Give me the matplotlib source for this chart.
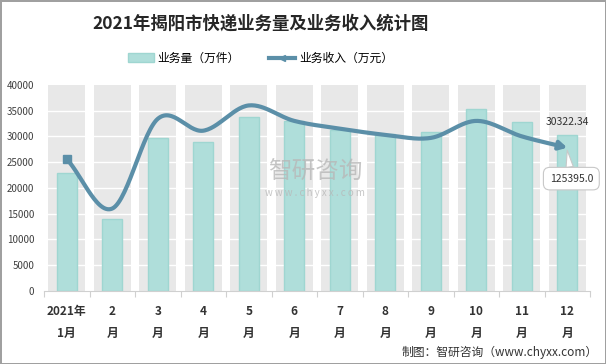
import matplotlib.pyplot as plt
import numpy as np
from matplotlib.patches import Rectangle
from matplotlib.lines import Line2D

plt.rcParams['font.family'] = ['Noto Sans CJK SC', 'DejaVu Sans']

months = ['2021年\n1月', '2\n月', '3\n月', '4\n月', '5\n月', '6\n月',
          '7\n月', '8\n月', '9\n月', '10\n月', '11\n月', '12\n月']
volume = [22900, 14000, 29600, 28900, 33700, 33000, 31300, 30500, 30800, 35400, 32700, 30322.34]
revenue = [25600, 16000, 33400, 31100, 36000, 33000, 31500, 30300, 29700, 33000, 30000, 27800]
ymax = 40000


def smooth(xs, ys, n=30):
    # catmull-rom curve through the points
    xs = np.asarray(xs, float)
    ys = np.asarray(ys, float)
    px = np.concatenate([[2 * xs[0] - xs[1]], xs, [2 * xs[-1] - xs[-2]]])
    py = np.concatenate([[2 * ys[0] - ys[1]], ys, [2 * ys[-1] - ys[-2]]])
    ox, oy = [], []
    t = np.linspace(0, 1, n, endpoint=False)
    for i in range(1, len(px) - 2):
        for p, o in ((px, ox), (py, oy)):
            p0, p1, p2, p3 = p[i - 1], p[i], p[i + 1], p[i + 2]
            o.extend(0.5 * (2 * p1 + (-p0 + p2) * t + (2 * p0 - 5 * p1 + 4 * p2 - p3) * t ** 2
                            + (-p0 + 3 * p1 - 3 * p2 + p3) * t ** 3))
    ox.append(xs[-1])
    oy.append(ys[-1])
    return np.array(ox), np.array(oy)


fig = plt.figure(figsize=(6.06, 3.64), dpi=100)
fig.patch.set_edgecolor('#a0a0a0')
fig.patch.set_linewidth(2)
ax = fig.add_axes([44 / 606, 0.2005, 546 / 606, 0.5665])

x = np.arange(len(months))
ax.bar(x, [ymax] * len(x), width=0.82, color='#e8e8e8', zorder=0)
ax.set_ylim(0, ymax)
ax.set_xlim(-0.5, len(x) - 0.5)
for yv in range(5000, ymax, 5000):
    ax.axhline(yv, color='white', lw=1, zorder=1)
ax.bar(x, volume, width=0.45, color='#afdeda', edgecolor='#9fd6d1', lw=1, zorder=2)

sx, sy = smooth(x, revenue)
ax.plot(sx[:-6], sy[:-6], color='#5b8fa8', lw=3, zorder=3, solid_capstyle='round')
ax.annotate('', xy=(x[-1], revenue[-1]), xytext=(sx[-7], sy[-7]),
            arrowprops=dict(arrowstyle='-|>,head_length=0.45,head_width=0.25', color='#5b8fa8', lw=3,
                            shrinkA=0, shrinkB=0),
            zorder=4)
ax.plot(x[0], revenue[0], marker='s', ms=6, color='#5b8fa8', zorder=4)

ax.text(x[-1], volume[-1] + 1400, f'{volume[-1]:.2f}', fontsize=7.5, color='#333333',
        ha='center', va='bottom', zorder=5)
ax.annotate('125395.0', xy=(x[-1], revenue[-1] - 500), xytext=(x[-1] + 0.09, revenue[-1] - 6000),
            fontsize=7.5, color='#333333', ha='center', va='center', zorder=5, annotation_clip=False,
            bbox=dict(boxstyle='round,pad=0.6', fc='white', ec='#c8c8c8', lw=0.8),
            arrowprops=dict(arrowstyle='wedge,tail_width=0.7,shrink_factor=0.5', fc='white',
                            ec='#c8c8c8', lw=0.8, shrinkA=0, shrinkB=0))

ax.set_yticks(range(0, ymax + 1, 5000))
ax.tick_params(axis='y', length=0, labelsize=7, labelcolor='#404040', pad=7)
ax.set_xticks(np.arange(-0.5, len(x), 1), minor=False)
ax.set_xticklabels([])
ax.tick_params(axis='x', length=4, color='#d0d0d0')
for i, lab in enumerate(months):
    ax.text(i, -0.07, lab, transform=ax.get_xaxis_transform(), ha='center', va='top',
            fontsize=8.5, fontweight='bold', color='#333333', linespacing=1.9)
for s in ['top', 'right', 'left']:
    ax.spines[s].set_visible(False)
ax.spines['bottom'].set_color('#d0d0d0')

fig.text(0.43, 0.935, '2021年揭阳市快递业务量及业务收入统计图', ha='center', va='center',
         fontsize=12.5, fontweight='bold', color='#262626')

handles = [Rectangle((0, 0), 1, 1, fc='#afdeda', ec='#9fd6d1'),
           Line2D([0], [0], color='#5b8fa8', lw=3, marker='<', ms=5)]
fig.legend(handles, ['业务量（万件）', '业务收入（万元）'], loc='center', bbox_to_anchor=(0.43, 0.84),
           ncol=2, frameon=False, fontsize=8.5, handlelength=2.2, columnspacing=2.5,
           handletextpad=0.3)

fig.text(0.52, 0.527, '智研咨询', ha='center', va='center', fontsize=17, color='#b8b8b8', alpha=0.8)
fig.text(0.52, 0.47, 'w w w . c h y x x . c o m', ha='center', va='center', fontsize=7,
         color='#b8b8b8', alpha=0.8)
fig.text(0.987, 0.033, '制图：智研咨询（www.chyxx.com）', ha='right', va='center',
         fontsize=8.5, color='#333333')

fig.savefig('out.png', dpi=100, edgecolor=fig.get_edgecolor())
